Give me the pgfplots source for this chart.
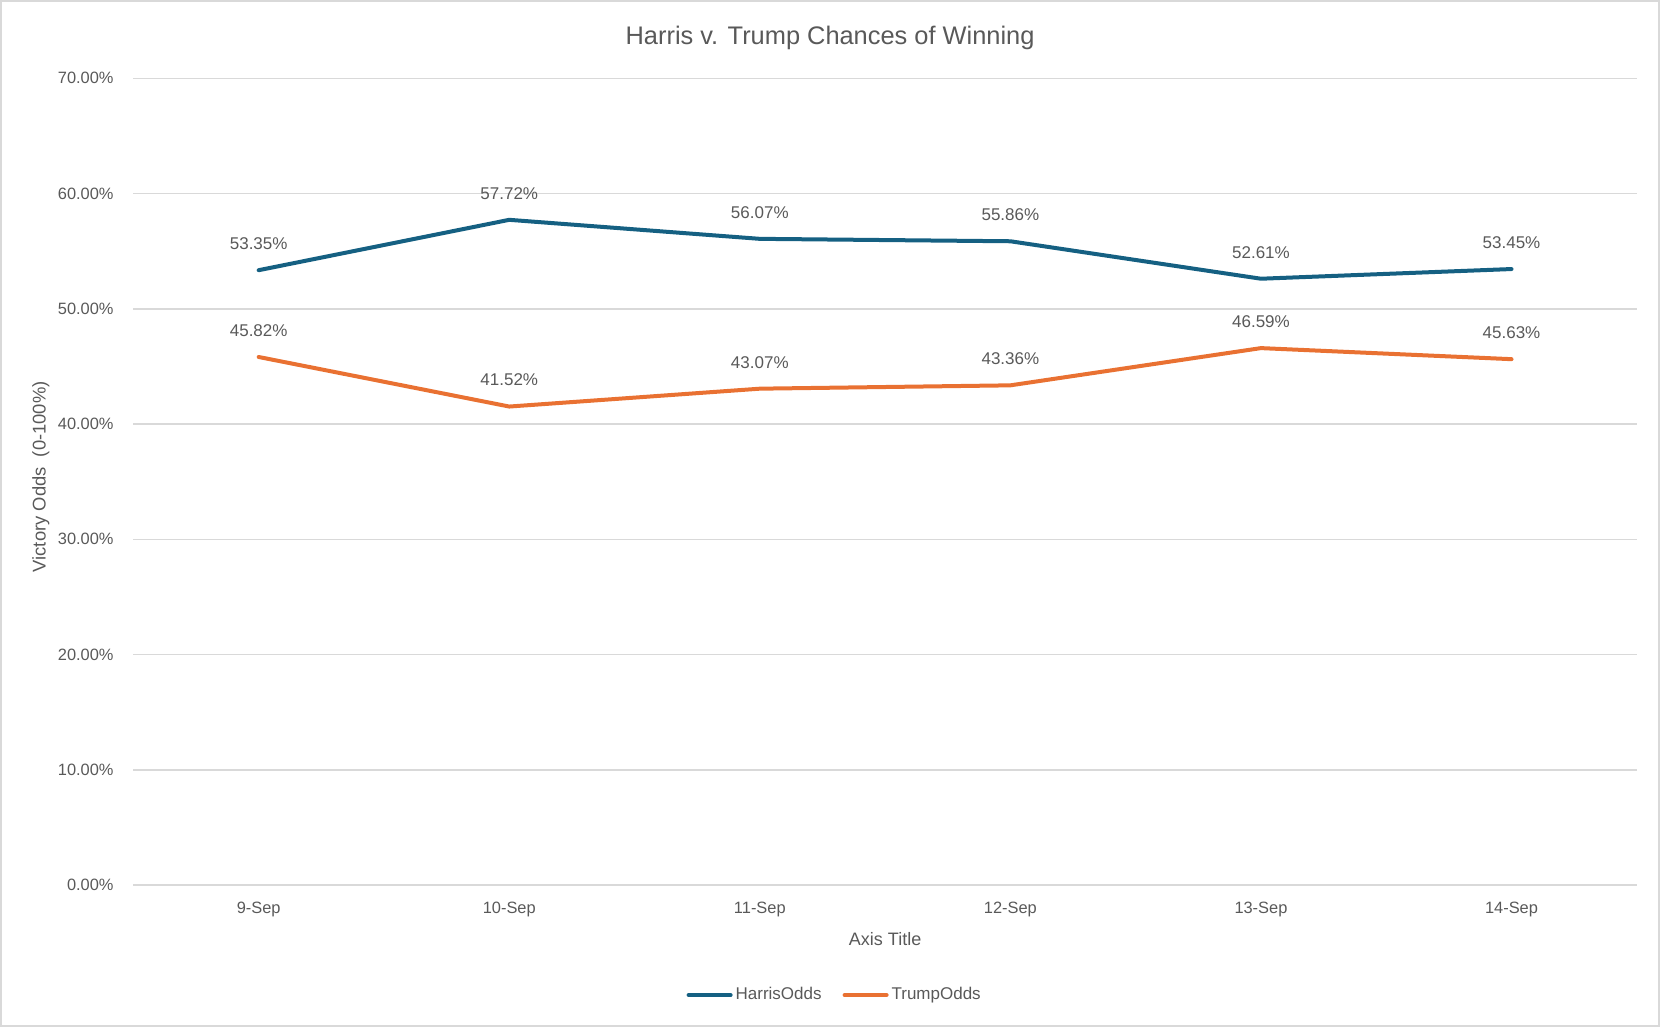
\documentclass[border=0pt]{standalone}
\usepackage{pgfplots}
\pgfplotsset{compat=1.18}
\usepackage{fontspec}
\setmainfont{Liberation Sans}
\definecolor{harris}{HTML}{156082}
\definecolor{trump}{HTML}{E97132}
\definecolor{txt}{HTML}{595959}
\definecolor{gridc}{HTML}{D9D9D9}
\begin{document}
\begin{tikzpicture}
\draw[gridc, line width=1pt] (0.5pt,0.5pt) rectangle (829.5pt,513pt);
\begin{axis}[
  at={(66.7pt,70.95pt)}, anchor=south west,
  width=751.7pt, height=403.4pt, scale only axis,
  /pgf/number format/assume math mode=true,
  xmin=-0.5, xmax=5.5, ymin=0, ymax=70,
  xtick={0,...,5},
  xticklabels={9-Sep,10-Sep,11-Sep,12-Sep,13-Sep,14-Sep},
  ytick={0,10,...,70},
  yticklabel={\pgfmathprintnumber[fixed,fixed zerofill,precision=2]{\tick}\%},
  major tick length=0pt,
  extra x ticks={-0.5,0.5,...,5.5},
  extra x tick labels={},
  extra x tick style={grid=none, tick align=outside, major tick length=2.5pt,
     tick style={draw=gridc, line width=0.75pt}},
  ymajorgrids,
  grid style={draw=gridc, line width=0.75pt},
  axis x line*=bottom, axis y line*=left,
  x axis line style={draw=gridc, line width=0.75pt, -},
  y axis line style={draw=none},
  ytick style={draw=none},
  xtick style={draw=none},
  ticklabel style={font=\fontsize{8.2}{10}\selectfont, text=txt},
  xticklabel style={anchor=center, yshift=-12.2pt},
  yticklabel style={xshift=-6.4pt},
  every axis title shift=0pt,
  title={Harris v. Trump Chances of Winning},
  title style={at={(axis description cs:0.4634,1.050)}, anchor=center,
     font=\fontsize{12.7}{15}\selectfont, text=txt},
  xlabel={Axis Title},
  xlabel style={at={(axis description cs:0.5,-0.0669)}, anchor=center,
     font=\fontsize{9}{11}\selectfont, text=txt},
  ylabel={Victory Odds\ \ (0-100\%)},
  ylabel style={at={(axis description cs:-0.0615,0.506)}, anchor=center, rotate=0,
     font=\fontsize{9.2}{11}\selectfont, text=txt},
  nodes near coords={\pgfmathprintnumber[fixed,fixed zerofill,precision=2]{\pgfplotspointmeta}\%},
  point meta=y,
  every node near coord/.append style={anchor=center, yshift=13.2pt,
     font=\fontsize{8.5}{10}\selectfont, text=txt},
  legend style={at={(axis description cs:0.4668,-0.1363)}, anchor=center,
     draw=none, fill=none, legend columns=2,
     font=\fontsize{8.5}{10}\selectfont, text=txt,
     /tikz/every even column/.append style={column sep=9pt},
     nodes={inner sep=1.5pt}},
  legend image code/.code={\draw[#1, line cap=round] (0pt,0pt) -- (21pt,0pt);},
  clip=false,
]
\addplot[harris, line width=2pt, line join=round, line cap=round, mark=none]
  coordinates {(0,53.35) (1,57.72) (2,56.07) (3,55.86) (4,52.61) (5,53.45)};
\addlegendentry{HarrisOdds}
\addplot[trump, line width=2pt, line join=round, line cap=round, mark=none]
  coordinates {(0,45.82) (1,41.52) (2,43.07) (3,43.36) (4,46.59) (5,45.63)};
\addlegendentry{TrumpOdds}
\end{axis}
\end{tikzpicture}
\end{document}
